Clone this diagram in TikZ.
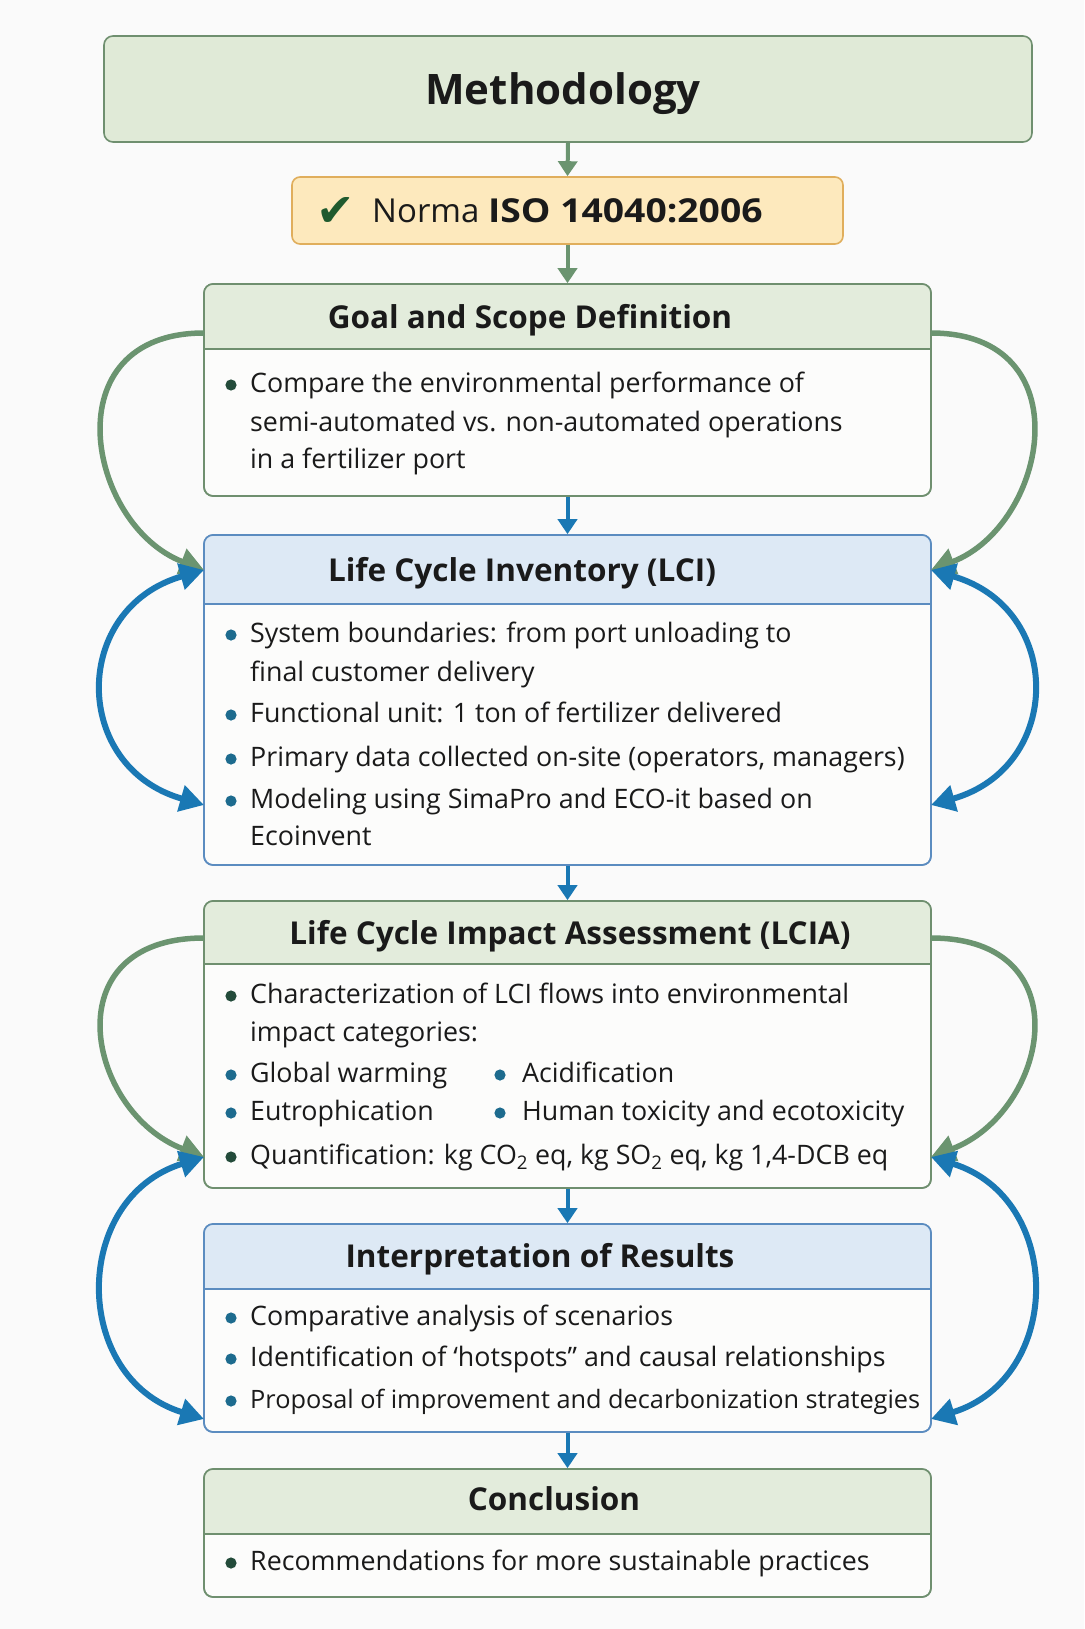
\documentclass[tikz,border=0pt]{standalone}
\usepackage{fontspec}
\setmainfont{Open Sans}
\newfontfamily\symfont{DejaVu Sans}
\usetikzlibrary{arrows.meta}
\definecolor{bgc}{HTML}{FAFAFA}
\definecolor{txt}{HTML}{1A1A1A}
\definecolor{gborder}{HTML}{6F8F6F}
\definecolor{ghead}{HTML}{E3ECDC}
\definecolor{gmeth}{HTML}{E0EAD7}
\definecolor{bborder}{HTML}{5B8CC0}
\definecolor{bhead}{HTML}{DDE9F5}
\definecolor{bodyc}{HTML}{FCFCFB}
\definecolor{isofill}{HTML}{FDE9BD}
\definecolor{isoborder}{HTML}{E0AE5C}
\definecolor{checkc}{HTML}{1F5A2E}
\definecolor{garrowc}{HTML}{6B9470}
\definecolor{barrowc}{HTML}{1A78B4}
\definecolor{bulg}{HTML}{234B3A}
\definecolor{bulb}{HTML}{1D6B8E}
\newcommand{\mkstage}[8]{%
  \node[draw=#8, fill=bodyc, line width=1.6pt, rounded corners=9pt, inner sep=0pt,
        minimum width={#4-#2}, minimum height={#5-#3}] (#1) at ({(#2+#4)/2},{(#3+#5)/2}) {};
  \begin{scope}
    \clip[rounded corners=9pt] (#2,#3) rectangle (#4,#5);
    \fill[#7] (#2,#3) rectangle (#4,#6);
  \end{scope}
  \draw[#8, line width=1.4pt] (#2,#6) -- (#4,#6);
  \draw[#8, line width=1.6pt, rounded corners=9pt] (#2,#3) rectangle (#4,#5);
}
\begin{document}
\begin{tikzpicture}[x=1pt,y=-1pt,
  bodytext/.style={font=\fontsize{26.8}{32}\selectfont, text=txt, anchor=mid west, inner sep=0pt, yshift=-8pt},
  headtext/.style={font=\fontsize{31.5}{38}\selectfont\bfseries, text=txt, inner sep=0pt, anchor=mid, yshift=-9.5pt},
  garrow/.style={draw=garrowc, line width=5.5pt, -{Triangle[width=26pt,length=24pt]}},
  barrow/.style={draw=barrowc, line width=6pt, {Triangle[width=26pt,length=24pt]}-{Triangle[width=26pt,length=24pt]}},
  gstraight/.style={draw=garrowc, line width=4pt, -{Triangle[width=19pt,length=15pt]}},
  bstraight/.style={draw=barrowc, line width=4pt, -{Triangle[width=19pt,length=15pt]}},
  gdot/.style={fill=bulg},
  bdot/.style={fill=bulb}
]
\useasboundingbox (0,0) rectangle (1084,1629);
\fill[bgc] (0,0) rectangle (1084,1629);

% Methodology
\node[draw=gborder, fill=gmeth, line width=1.6pt, rounded corners=9pt, inner sep=0pt,
      minimum width=928pt, minimum height=106pt] (meth) at (568,89) {};
\node[font=\fontsize{42}{48}\selectfont\bfseries, text=txt, inner sep=0pt, anchor=mid, yshift=-12.5pt] (methT) at (563,89) {Methodology};

% ISO
\node[draw=isoborder, fill=isofill, line width=1.6pt, rounded corners=8pt, inner sep=0pt,
      minimum width=551pt, minimum height=67pt] (iso) at (567.5,210.5) {};
\node[font=\symfont\fontsize{46}{52}\selectfont, text=checkc, inner sep=0pt, anchor=center] (check) at (336,212) {✔};
\node[font=\fontsize{33}{40}\selectfont, text=txt, inner sep=0pt, anchor=mid west, yshift=-10pt] (isoT) at (372,210) {Norma {\bfseries\addfontfeatures{FakeStretch=1.13}ISO 14040:2006}};

% Stage boxes
\mkstage{goal}{204}{284}{931}{496}{349}{ghead}{gborder}
\mkstage{lci}{204}{535}{931}{865}{604}{bhead}{bborder}
\mkstage{lcia}{204}{901}{931}{1188}{964}{ghead}{gborder}
\mkstage{interp}{204}{1224}{931}{1432}{1289}{bhead}{bborder}
\mkstage{concl}{204}{1469}{931}{1597}{1534}{ghead}{gborder}

% Headings
\node[headtext] (goalH) at (530,316) {Goal and Scope Definition};
\node[headtext] (lciH) at (522,569) {Life Cycle Inventory (LCI)};
\node[headtext] (lciaH) at (570,932) {Life Cycle Impact Assessment (LCIA)};
\node[headtext] (interpH) at (540,1255) {Interpretation of Results};
\node[headtext] (conclH) at (554,1498) {Conclusion};

% Goal body
\fill[gdot] (231,385) circle (5.6pt);
\node[bodytext] (g1) at (250,382) {Compare the environmental performance of};
\node[bodytext] (g2) at (250,421) {semi-automated vs. non-automated operations};
\node[bodytext] (g3) at (250,458) {in a fertilizer port};

% LCI body
\fill[bdot] (231,635) circle (5.6pt);
\node[bodytext] (l1) at (250,632) {System boundaries: from port unloading to};
\node[bodytext] (l2) at (250,671) {final customer delivery};
\fill[bdot] (231,715) circle (5.6pt);
\node[bodytext] (l3) at (250,712) {Functional unit: 1 ton of fertilizer delivered};
\fill[bdot] (231,759) circle (5.6pt);
\node[bodytext] (l4) at (250,756) {Primary data collected on-site (operators, managers)};
\fill[bdot] (231,801) circle (5.6pt);
\node[bodytext] (l5) at (250,798) {Modeling using SimaPro and ECO-it based on};
\node[bodytext] (l6) at (250,835) {Ecoinvent};

% LCIA body
\fill[gdot] (231,996) circle (5.6pt);
\node[bodytext] (a1) at (250,993) {Characterization of LCI flows into environmental};
\node[bodytext] (a2) at (250,1031) {impact categories:};
\fill[bdot] (231,1075) circle (5.6pt);
\node[bodytext] (a3) at (250,1072) {Global warming};
\fill[bdot] (500,1075) circle (5.6pt);
\node[bodytext] (a4) at (522,1072) {Acidification};
\fill[bdot] (231,1113) circle (5.6pt);
\node[bodytext] (a5) at (250,1110) {Eutrophication};
\fill[bdot] (500,1113) circle (5.6pt);
\node[bodytext] (a6) at (522,1110) {Human toxicity and ecotoxicity};
\fill[gdot] (231,1157) circle (5.6pt);
\node[bodytext] (a7) at (250,1154) {Quantification: kg CO\textsubscript{2} eq, kg SO\textsubscript{2} eq, kg 1,4-DCB eq};

% Interpretation body
\fill[bdot] (231,1318) circle (5.6pt);
\node[bodytext] (i1) at (250,1315) {Comparative analysis of scenarios};
\fill[bdot] (231,1359) circle (5.6pt);
\node[bodytext] (i2) at (250,1356) {Identification of ‘hotspots” and causal relationships};
\fill[bdot] (231,1401) circle (5.6pt);
\node[bodytext, font=\fontsize{25.3}{32}\selectfont, yshift=0.5pt] (i3) at (250,1398) {Proposal of improvement and decarbonization strategies};

% Conclusion body
\fill[gdot] (231,1563) circle (5.6pt);
\node[bodytext] (c1) at (250,1560) {Recommendations for more sustainable practices};

% Straight connectors
\draw[gstraight] (meth.south) -- (iso.north);
\draw[gstraight] (iso.south) -- (goal.north);
\draw[bstraight] (goal.south) -- (lci.north);
\draw[bstraight] (lci.south) -- (lcia.north);
\draw[bstraight] (lcia.south) -- (interp.north);
\draw[bstraight] (interp.south) -- (concl.north);

% Side coordinates
\coordinate (gL1) at (204,333);  \coordinate (gR1) at (931,333);
\coordinate (lL1) at (204,570);  \coordinate (lR1) at (931,570);
\coordinate (lL2) at (204,805);  \coordinate (lR2) at (931,805);
\coordinate (aL1) at (204,938);  \coordinate (aR1) at (931,938);
\coordinate (aL2) at (204,1157); \coordinate (aR2) at (931,1157);
\coordinate (iL1) at (204,1419); \coordinate (iR1) at (931,1419);

% Curved feedback arrows, left
\draw[garrow] (gL1) .. controls (51,333) and (87,525) .. (lL1);
\draw[barrow] (lL1) .. controls (71,608) and (71,767) .. (lL2);
\draw[garrow] (aL1) .. controls (51,938) and (87,1112) .. (aL2);
\draw[barrow] (aL2) .. controls (71,1198) and (71,1378) .. (iL1);
% right
\draw[garrow] (gR1) .. controls (1084,333) and (1048,525) .. (lR1);
\draw[barrow] (lR1) .. controls (1064,608) and (1064,767) .. (lR2);
\draw[garrow] (aR1) .. controls (1084,938) and (1048,1112) .. (aR2);
\draw[barrow] (aR2) .. controls (1064,1198) and (1064,1378) .. (iR1);
\end{tikzpicture}
\end{document}
